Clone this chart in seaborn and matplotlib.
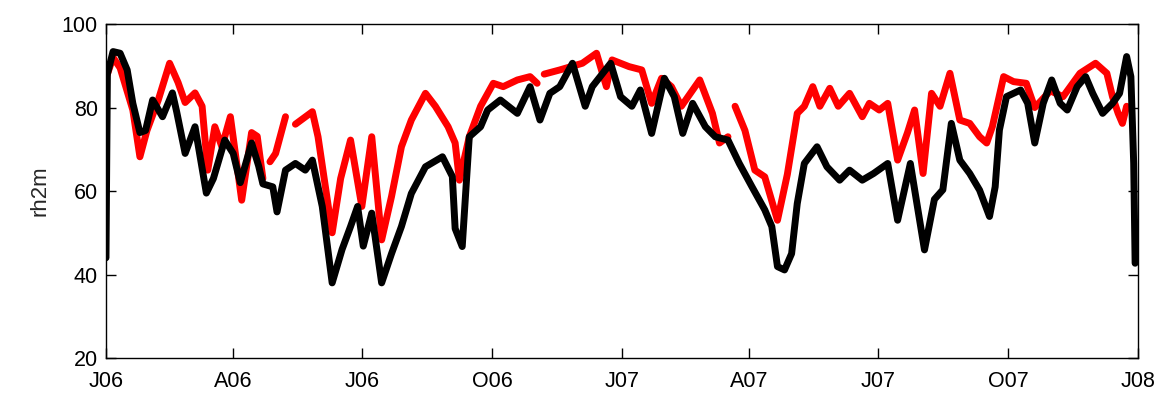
import numpy as np
import pandas as pd
import matplotlib
matplotlib.use('Agg')
import matplotlib.pyplot as plt
import seaborn as sns

# start of the record
START = '2006-01-01'

# black series: day offset from START, rh2m value
black_days = [0, 1, 5, 10, 15, 19, 24, 28, 33, 40, 47, 50, 56, 63, 71, 76, 84, 90, 95,
              103, 108, 111, 118, 121, 127, 134, 141, 146, 153, 160, 167, 173, 178, 182,
              188, 195, 202, 209, 216, 226, 238, 245, 247, 252, 257, 265, 270, 279, 291,
              300, 307, 314, 321, 330, 339, 344, 357, 364, 372, 378, 386, 395, 402, 408,
              415, 424, 431, 440, 448, 457, 466, 471, 475, 480, 485, 489, 494, 503, 510,
              519, 526, 535, 543, 553, 560, 569, 579, 586, 592, 598, 604, 611, 618, 625,
              629, 632, 637, 647, 652, 657, 663, 669, 675, 680, 687, 693, 698, 705, 712,
              717, 722, 725, 727, 728]
black_vals = [44, 88, 93.4, 93, 89, 81, 74, 74.5, 81.8, 77.8, 83.5, 79, 69, 75.4, 59.5, 63,
              72.2, 69, 62, 71.5, 66, 61.7, 61, 55, 65, 66.6, 65, 67.4, 56.3, 38, 46, 51.5,
              56.3, 46.8, 54.7, 38, 45, 51.5, 59.4, 65.8, 68.2, 63.5, 51, 46.7, 73, 75.4,
              79.4, 81.8, 78.6, 85, 77, 83.4, 85, 90.6, 80.3, 85, 90.6, 82.6, 80.3, 84.2,
              73.8, 87, 82.6, 73.8, 81, 75.4, 73, 72.2, 66.6, 61, 55.5, 51.5, 41.9, 41.1,
              45, 57, 66.6, 70.6, 65.8, 62.6, 65, 62.6, 64.2, 66.6, 53, 66.6, 45.9, 58,
              60.3, 76.2, 67.4, 64.2, 60.2, 53.9, 61, 74.6, 82.6, 84.2, 81, 71.5, 81, 86.6,
              81, 79.4, 85, 87.4, 83.4, 78.6, 81, 83.4, 92.2, 87.4, 66.6, 42.7]

# red series: NaN marks missing data (gaps in the line)
red_days = [1, 5, 10, 19, 24, 29, 37, 45, 51, 56, 63, 68, 72, 77, 82, 88, 96, 103, 107, 111,
            113, 116, 120, 127, 130, 134, 146, 150, 160, 166, 173, 181, 188, 195, 202, 209,
            216, 226, 233, 242, 247, 250, 257, 265, 274, 281, 291, 300, 305, 307, 310, 321,
            337, 347, 354, 358, 370, 379, 386, 393, 400, 407, 420, 429, 434, 440, 442, 445,
            452, 459, 466, 475, 482, 489, 494, 500, 505, 512, 518, 526, 535, 540, 547, 553,
            560, 567, 572, 578, 584, 590, 597, 604, 611, 618, 623, 627, 635, 642, 651, 657,
            668, 677, 689, 700, 708, 712, 716, 719, 722]
red_vals = [88, 92, 89.5, 79.4, 68.2, 74.5, 81.8, 90.6, 86, 81.2, 83.5, 80.3, 65, 75.4, 70.6,
            77.8, 57.8, 74, 73.1, 63, np.nan, 67, 69, 77.8, np.nan, 76, 79, 73, 50, 63, 72.2,
            56.3, 73, 48.3, 58.7, 70.6, 77, 83.4, 80.3, 75.4, 71.5, 62.6, 73, 80.3, 85.8, 85,
            86.6, 87.4, 85.8, np.nan, 88, 89, 90.6, 93, 85, 91.4, 89.8, 89, 81, 87, 85, 80.3,
            86.6, 78.6, 71.5, 73, np.nan, 80.3, 74.5, 65, 63.4, 53, 64, 78.6, 80.3, 85, 80.3,
            84.6, 80.3, 83.4, 77.8, 81, 79.4, 81, 67.4, 74, 79.4, 64.2, 83.4, 80.3, 88.2, 77,
            76.2, 73, 71.5, 75.4, 87.4, 86.2, 85.8, 80, 84, 82.6, 88.2, 90.6, 88.2, 82.6, 78.6,
            76.2, 80.3]

tick_dates = ['2006-01-01', '2006-04-01', '2006-07-01', '2006-10-01', '2007-01-01',
              '2007-04-01', '2007-07-01', '2007-10-01', '2008-01-01']
tick_labels = ['J06', 'A06', 'J06', 'O06', 'J07', 'A07', 'J07', 'O07', 'J08']


def make_frame(days, vals):
    df = pd.DataFrame({'day': days, 'rh2m': vals})
    df['date'] = pd.Timestamp(START) + pd.to_timedelta(df['day'], unit='D')
    # a new segment after every missing value so the gaps stay open
    df['seg'] = df['rh2m'].isna().cumsum()
    return df.dropna()


def main():
    sns.set_theme(style='ticks')
    plt.rcParams['font.family'] = ['Liberation Sans', 'DejaVu Sans']

    red = make_frame(red_days, red_vals)
    black = make_frame(black_days, black_vals)

    fig = plt.figure(figsize=(11.62, 3.97), dpi=100)
    ax = fig.add_axes([0.0912, 0.0982, 0.8881, 0.8413])

    sns.lineplot(data=red, x='date', y='rh2m', units='seg', estimator=None,
                 color='#ff0000', linewidth=5, ax=ax)
    sns.lineplot(data=black, x='date', y='rh2m', units='seg', estimator=None,
                 color='black', linewidth=5, ax=ax)

    ax.set_xlim(pd.Timestamp('2006-01-01'), pd.Timestamp('2008-01-01'))
    ax.set_ylim(20, 100)
    ax.set_yticks([20, 40, 60, 80, 100])
    ax.set_xticks(pd.to_datetime(tick_dates))
    ax.set_xticklabels(tick_labels)
    ax.set_xlabel('')
    ax.set_ylabel('rh2m', fontsize=16, labelpad=8)

    ax.tick_params(direction='in', length=7, width=1, labelsize=15.5,
                   top=True, right=True, colors='black')
    ax.tick_params(axis='x', pad=9)
    ax.tick_params(axis='y', pad=6)
    for s in ax.spines.values():
        s.set_visible(True)
        s.set_linewidth(1)
        s.set_color('black')

    fig.savefig('out.png', dpi=100)


if __name__ == '__main__':
    main()
